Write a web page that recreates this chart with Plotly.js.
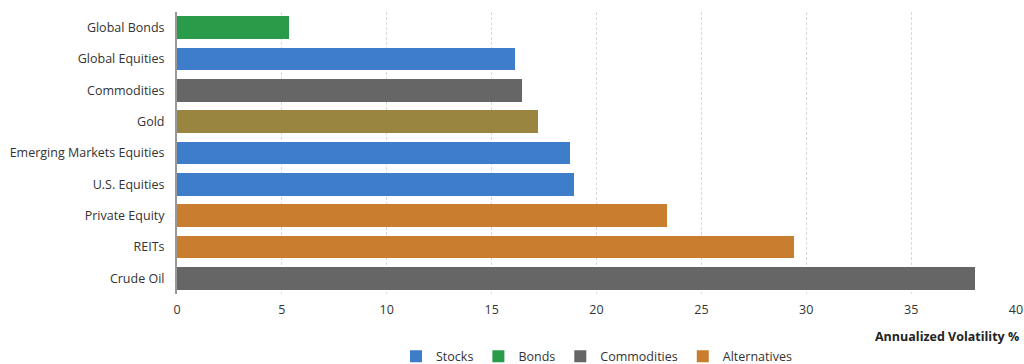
<!DOCTYPE html>
<html><head><meta charset="utf-8">
<script src="https://cdn.plot.ly/plotly-3.0.1.min.js"></script>
<style>body{margin:0;padding:0;background:#fff}#c{width:1024px;height:364px}</style>
</head><body><div id="c"></div>
<script>
const categories = ["Global Bonds","Global Equities","Commodities","Gold","Emerging Markets Equities","U.S. Equities","Private Equity","REITs","Crude Oil"];
const stocksCats = ["Global Equities","Emerging Markets Equities","U.S. Equities"];
const stocksVals = [16.1, 18.75, 18.95];
const bondsCats = ["Global Bonds"];
const bondsVals = [5.34];
const commodCats = ["Commodities","Crude Oil"];
const commodVals = [16.45, 38.05];
const goldCats = ["Gold"];
const goldVals = [17.2];
const altCats = ["Private Equity","REITs"];
const altVals = [23.35, 29.4];
const xTicks = [0,5,10,15,20,25,30,35,40];

const FONT = '"Open Sans", sans-serif';
function tr(name, cats, vals, color, show) {
  return {type:'bar', orientation:'h', name:name, y:cats, x:vals,
    marker:{color:color, line:{width:0}}, showlegend:show, hoverinfo:'x+y'};
}
const data = [
  tr('Stocks', stocksCats, stocksVals, '#3D7DCA', true),
  tr('Bonds', bondsCats, bondsVals, '#2A9B48', true),
  tr('Commodities', commodCats, commodVals, '#666666', true),
  tr('Alternatives', altCats, altVals, '#C87D2F', true),
  tr('Gold', goldCats, goldVals, '#998540', false)
];
const layout = {
  width:1024, height:364,
  margin:{l:177, r:8, t:12, b:70, autoexpand:false},
  paper_bgcolor:'#fff', plot_bgcolor:'#fff',
  font:{family:FONT, size:12, color:'#333'},
  barmode:'stack', bargap:0.27,
  xaxis:{range:[0,40], tickvals:xTicks, ticktext:xTicks.map(String),
    showgrid:true, gridcolor:'#d9d9d9', griddash:'3px,2px', gridwidth:1,
    zeroline:false, showline:false, ticks:'', ticklabelstandoff:6,
    tickfont:{size:12.5, color:'#333'}, automargin:false},
  yaxis:{type:'category', categoryorder:'array', categoryarray:categories,
    autorange:'reversed', showgrid:false, zeroline:false, automargin:false,
    showline:true, linecolor:'#999', linewidth:2, ticks:'', ticklen:0,
    ticklabelstandoff:8, tickfont:{size:12.5, color:'#333'}},
  annotations:[{text:'<b>Annualized Volatility %</b>', xref:'paper', yref:'paper',
    x:1.006, y:-0.115, xanchor:'right', yanchor:'top', showarrow:false,
    font:{family:FONT, size:12.5, color:'#222'}}],
  legend:{orientation:'h', x:0.5, xanchor:'center', xref:'paper', yref:'container',
    y:0.02, yanchor:'middle', font:{family:FONT, size:12.5, color:'#333'},
    itemwidth:30, traceorder:'normal', tracegroupgap:0}
};
Plotly.newPlot('c', data, layout, {displayModeBar:false, staticPlot:true});
</script></body></html>
